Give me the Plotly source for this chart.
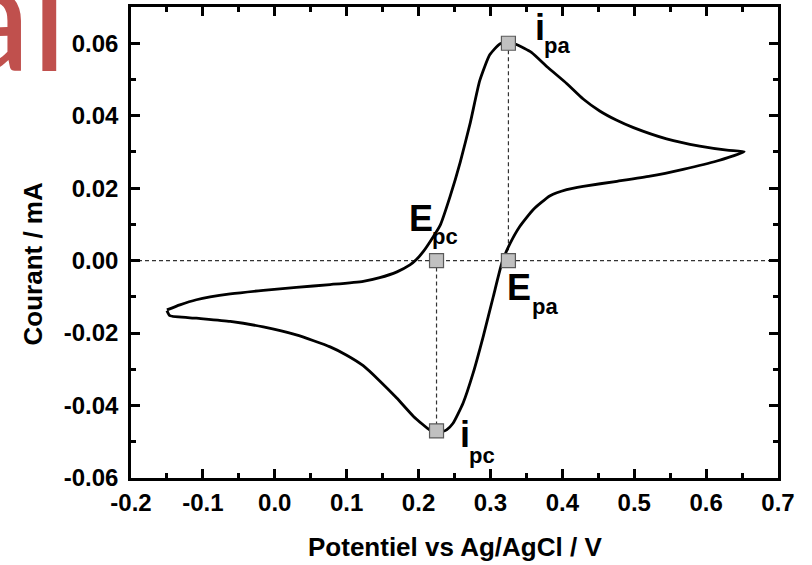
import plotly.graph_objects as go

# ---------------- data ----------------
# forward (anodic) scan, from left vertex to right vertex
fwd_V = [-0.150, -0.132, -0.109, -0.062, -0.016, 0.030, 0.077, 0.123, 0.146, 0.170,
         0.188, 0.197, 0.207, 0.216, 0.230, 0.244, 0.258, 0.272, 0.285, 0.299,
         0.313, 0.325, 0.337, 0.357, 0.380, 0.406, 0.429, 0.452, 0.475, 0.499, 0.545,
         0.591, 0.629, 0.653]
fwd_I = [-0.0136, -0.0122, -0.0108, -0.0092, -0.0082, -0.0074, -0.0066, -0.0057, -0.0047, -0.0031,
         -0.0012, 0.0003, 0.0026, 0.0052, 0.0097, 0.0178, 0.0272, 0.0381, 0.0496, 0.0568,
         0.0598, 0.0603, 0.0596, 0.0575, 0.0533, 0.0489, 0.0446, 0.0413, 0.0388, 0.0367, 0.0336,
         0.0316, 0.0305, 0.0301]
# reverse (cathodic) scan, from right vertex back to left vertex
rev_V = [0.615, 0.568, 0.522, 0.476, 0.429, 0.406, 0.383, 0.360, 0.341, 0.327,
         0.316, 0.304, 0.290, 0.276, 0.262, 0.248, 0.239, 0.228, 0.216,
         0.193, 0.170, 0.146, 0.123, 0.100, 0.077, 0.030, -0.016, -0.062, -0.109, -0.146,
         -0.150]
rev_I = [0.0275, 0.0252, 0.0233, 0.0219, 0.0205, 0.0196, 0.0179, 0.0142, 0.0095, 0.0046,
         -0.0006, -0.0099, -0.0209, -0.0310, -0.0393, -0.0449, -0.0467, -0.0475, -0.0468,
         -0.0430, -0.0380, -0.0332, -0.0290, -0.0261, -0.0238, -0.0205, -0.0183, -0.0168, -0.0159, -0.0152,
         -0.0138]

# characteristic points: i_pa, E_pa, E_pc, i_pc
pt_names = ["ipa", "Epa", "Epc", "ipc"]
pt_V = [0.325, 0.325, 0.225, 0.225]
pt_I = [0.060, 0.000, 0.000, -0.047]

x_ticks = [-0.2, -0.1, 0.0, 0.1, 0.2, 0.3, 0.4, 0.5, 0.6, 0.7]
x_labels = ["-0.2", "-0.1", "0.0", "0.1", "0.2", "0.3", "0.4", "0.5", "0.6", "0.7"]
x_minor = [-0.15, -0.05, 0.05, 0.15, 0.25, 0.35, 0.45, 0.55, 0.65]
y_ticks = [-0.06, -0.04, -0.02, 0.00, 0.02, 0.04, 0.06]
y_labels = ["-0.06", "-0.04", "-0.02", "0.00", "0.02", "0.04", "0.06"]
y_minor = [-0.05, -0.03, -0.01, 0.01, 0.03, 0.05, 0.07]

FONT = "Liberation Sans, Arial, sans-serif"

fig = go.Figure()

cv_V = fwd_V + rev_V
cv_I = fwd_I + rev_I
fig.add_trace(go.Scatter(x=cv_V, y=cv_I, mode="lines",
                         line=dict(color="black", width=2.8, shape="spline", smoothing=0.5),
                         hoverinfo="skip"))

# dashed guide lines
dash_style = dict(color="#333333", width=1.2, dash="4px,3px")
fig.add_shape(type="line", x0=x_ticks[0], x1=x_ticks[-1], y0=0, y1=0, line=dash_style, layer="below")
fig.add_shape(type="line", x0=pt_V[0], x1=pt_V[1], y0=pt_I[0], y1=pt_I[1], line=dash_style, layer="below")
fig.add_shape(type="line", x0=pt_V[2], x1=pt_V[3], y0=pt_I[2], y1=pt_I[3], line=dash_style, layer="below")

fig.add_trace(go.Scatter(x=pt_V, y=pt_I, mode="markers",
                         marker=dict(symbol="square", size=14, color="#c0c0c0",
                                     line=dict(color="#5a5a5a", width=1.2)),
                         hoverinfo="skip"))

# point labels: (main letter, subscript)
labels = [
    ("i", "pa", 0.3689, 0.0643, 0.3932, 0.0595),
    ("E", "pc", 0.2033, 0.0117, 0.2374, 0.0067),
    ("E", "pa", 0.3396, -0.0073, 0.3758, -0.0126),
    ("i", "pc", 0.2645, -0.0481, 0.2889, -0.0538),
]
for main, sub, mx, my, sx, sy in labels:
    fig.add_annotation(x=mx, y=my, text=main, showarrow=False, xanchor="center", yanchor="middle",
                       font=dict(family=FONT, size=36, color="black", weight="bold"))
    fig.add_annotation(x=sx, y=sy, text=sub, showarrow=False, xanchor="center", yanchor="middle",
                       font=dict(family=FONT, size=22, color="black", weight="bold"))

# axis titles
fig.add_annotation(xref="paper", yref="paper", x=0.5, y=-0.1465, text="Potentiel vs Ag/AgCl / V",
                   showarrow=False, xanchor="center", yanchor="middle",
                   font=dict(family=FONT, size=26, color="black", weight="bold"))
fig.add_annotation(xref="paper", yref="paper", x=-0.1515, y=0.4554, text="Courant / mA",
                   showarrow=False, xanchor="center", yanchor="middle", textangle=-90,
                   font=dict(family=FONT, size=26, color="black", weight="bold"))

# cropped red heading fragment
fig.add_annotation(xref="paper", yref="paper", x=-0.095, y=0.789, text="al",
                   showarrow=False, xanchor="right", yanchor="bottom",
                   font=dict(family="Lato, sans-serif", size=155, color="#c0504d"))

axis_common = dict(showline=True, linewidth=2.5, linecolor="black", mirror="ticks",
                   ticks="inside", ticklen=9, tickwidth=2.5, tickcolor="black",
                   showgrid=False, zeroline=False, automargin=False,
                   tickfont=dict(family=FONT, size=24, color="black", weight="bold"))

fig.update_xaxes(range=[-0.2, 0.7], tickmode="array", tickvals=x_ticks, ticktext=x_labels,
                 ticklabelstandoff=1,
                 minor=dict(tickmode="array", tickvals=x_minor, ticks="inside", ticklen=5,
                            tickwidth=2.5, tickcolor="black"),
                 **axis_common)
fig.update_yaxes(range=[-0.06, 0.07], tickmode="array", tickvals=y_ticks, ticktext=y_labels,
                 ticklabelstandoff=5,
                 minor=dict(tickmode="array", tickvals=y_minor, ticks="inside", ticklen=5,
                            tickwidth=2.5, tickcolor="black"),
                 **axis_common)

fig.update_layout(width=812, height=565, margin=dict(l=131, r=34, t=7, b=87),
                  plot_bgcolor="white", paper_bgcolor="white", showlegend=False)

fig.write_html("out.html", config={"displayModeBar": False},
               post_script="document.body.style.margin='0';document.body.style.overflow='hidden';")
